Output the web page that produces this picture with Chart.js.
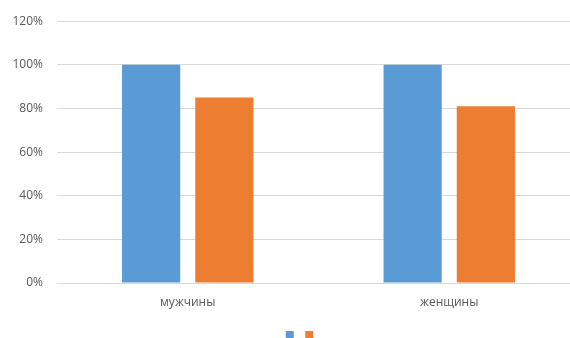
<!DOCTYPE html>
<html><head><meta charset="utf-8">
<script src="https://cdn.jsdelivr.net/npm/chart.js@4"></script>
<style>html,body{margin:0;padding:0;overflow:hidden;background:#fff;width:570px;height:338px}#wrap{width:580px;height:338px}</style>
</head><body><div id="wrap"><canvas id="c" width="580" height="338"></canvas></div>
<script>
const categories = ["мужчины", "женщины"];
const series1 = [100, 100];
const series2 = [85, 81];
const yTicks = [0, 20, 40, 60, 80, 100, 120];

new Chart(document.getElementById('c'), {
  type: 'bar',
  data: {
    labels: categories,
    datasets: [
      {label: '', data: series1, backgroundColor: '#5B9BD5', categoryPercentage: 0.56, barPercentage: 0.795},
      {label: '', data: series2, backgroundColor: '#ED7D31', categoryPercentage: 0.56, barPercentage: 0.795}
    ]
  },
  options: {
    responsive: false, animation: false,
    layout: {padding: {top: 18, left: 0, right: 0, bottom: -11}},
    plugins: {
      tooltip: {enabled: false},
      legend: {
        position: 'bottom',
        labels: {
          boxWidth: 8, boxHeight: 8, padding: 11, font: {size: 1},
          generateLabels: chart => {
            const items = Chart.defaults.plugins.legend.labels.generateLabels(chart);
            return [{text: '', fillStyle: 'rgba(0,0,0,0)', strokeStyle: 'rgba(0,0,0,0)', lineWidth: 0, hidden: false, datasetIndex: -1}].concat(items);
          }
        }
      }
    },
    scales: {
      x: {
        grid: {display: false}, border: {display: false},
        ticks: {color: '#595959', font: {family: 'Open Sans', size: 12}, padding: 4},
        afterFit: s => { s.height = 37; }
      },
      y: {
        min: 0, max: 120,
        afterBuildTicks: s => { s.ticks = yTicks.map(v => ({value: v})); },
        grid: {color: '#d9d9d9', drawTicks: false}, border: {display: false},
        ticks: {color: '#595959', font: {family: 'Open Sans', size: 12}, padding: 14, callback: v => v + '%'},
        afterFit: s => { s.width = 57; }
      }
    }
  }
});
</script></body></html>
